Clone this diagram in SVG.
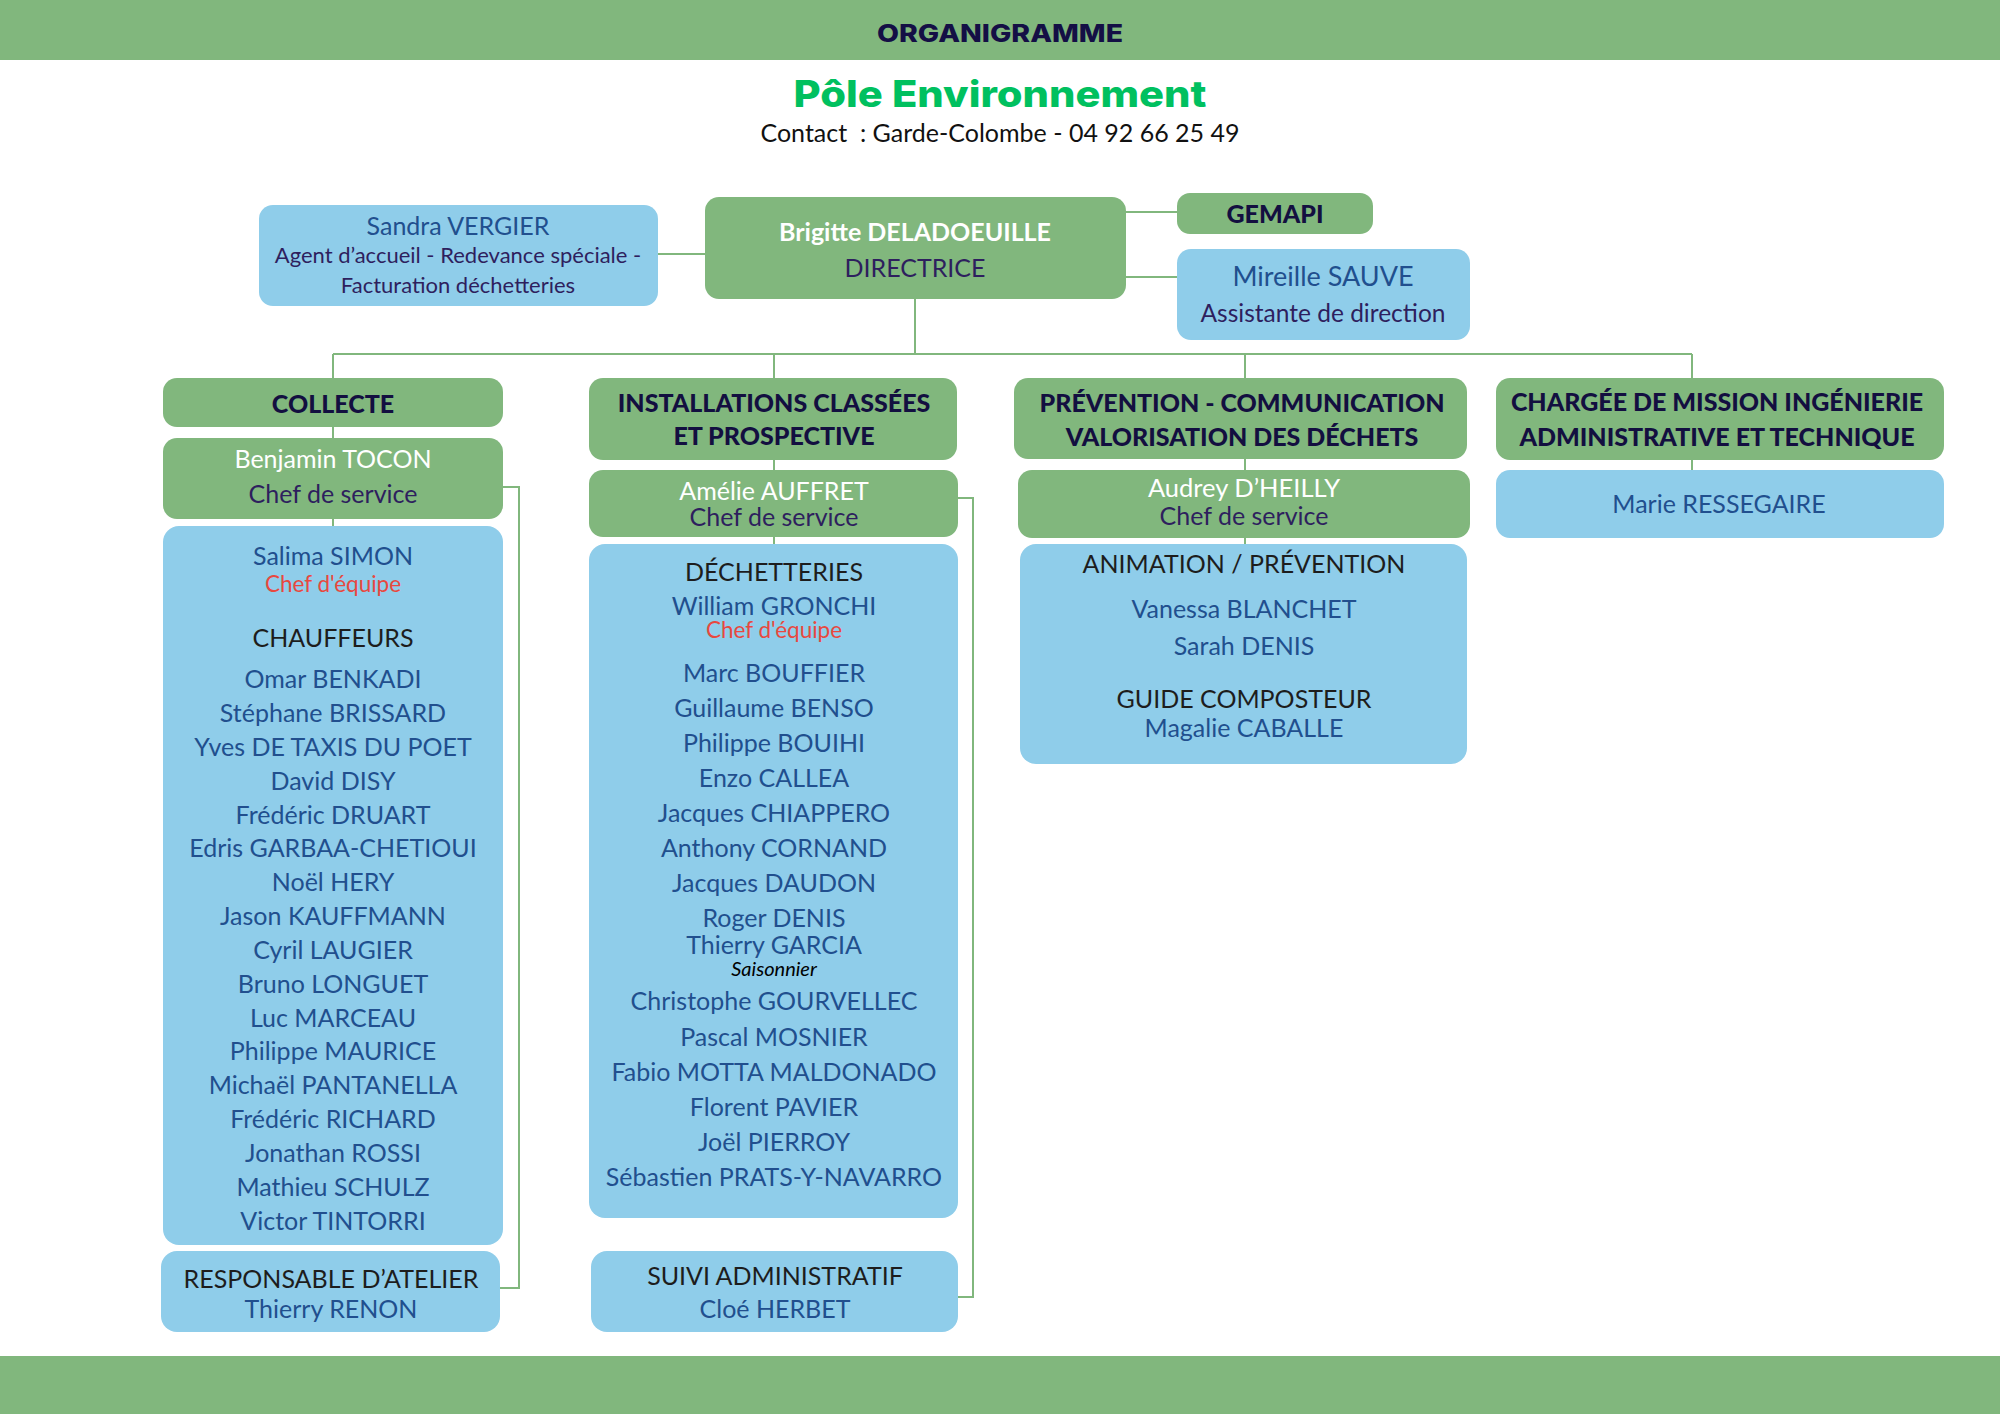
<svg xmlns="http://www.w3.org/2000/svg" width="2000" height="1414" viewBox="0 0 2000 1414">
<style>
text{font-family:Lato,"Open Sans","Liberation Sans",sans-serif;text-anchor:middle;font-size:25px;}
.g{fill:#81b77d;}
.b{fill:#8fcdea;}
.h{font-weight:900;fill:#130f40;}
.w{fill:#ffffff;}
.wb{fill:#ffffff;font-weight:700;}
.p{fill:#2e1f5e;}
.n{fill:#214f8e;}
.d{fill:#1d1d1d;}
.r{fill:#e8483f;font-size:22.5px;}
.ln{fill:none;stroke:#81b77d;stroke-width:2;}
</style>
<rect x="0" y="0" width="2000" height="60" class="g"/>
<rect x="0" y="1356" width="2000" height="58" class="g"/>
<text x="1000" y="42" textLength="246" lengthAdjust="spacingAndGlyphs" style="font-family:Inter,'Open Sans',sans-serif;font-weight:800;font-size:24px;fill:#140f45">ORGANIGRAMME</text>
<text x="1000" y="107" textLength="413" lengthAdjust="spacingAndGlyphs" style="font-family:Inter,'Open Sans',sans-serif;font-weight:800;font-size:37px;fill:#00c05f">Pôle Environnement</text>
<text x="1000" y="142" style="fill:#111">Contact&#160; : Garde-Colombe - 04 92 66 25 49</text>

<g id="connectors">
<path class="ln" d="M658 254H705"/>
<path class="ln" d="M1126 212H1177"/>
<path class="ln" d="M1126 277H1177"/>
<path class="ln" d="M915 299V354"/>
<path class="ln" d="M333 354H1692"/>
<path class="ln" d="M333 354V378M333 427V438M333 519V527"/>
<path class="ln" d="M774 354V378M774 460V470M774 537V545"/>
<path class="ln" d="M1245 354V378M1245 459V470M1245 538V544"/>
<path class="ln" d="M1692 354V378M1692 460V470"/>
<path class="ln" d="M503 487H519V1288H500"/>
<path class="ln" d="M958 498H973V1297H958"/>
</g>

<g id="sandra">
<rect x="259" y="205" width="399" height="101" rx="14" class="b"/>
<text x="458" y="235" class="n">Sandra VERGIER</text>
<text x="458" y="263" class="p" style="font-size:22px">Agent d’accueil - Redevance spéciale -</text>
<text x="458" y="293" class="p" style="font-size:22px">Facturation déchetteries</text>
</g>
<g id="brigitte">
<rect x="705" y="197" width="421" height="102" rx="14" class="g"/>
<text x="915" y="241" class="wb">Brigitte DELADOEUILLE</text>
<text x="915" y="277" class="p">DIRECTRICE</text>
</g>
<g id="gemapi">
<rect x="1177" y="193" width="196" height="41" rx="13" class="g"/>
<text x="1275" y="223" class="h">GEMAPI</text>
</g>
<g id="mireille">
<rect x="1177" y="249" width="293" height="91" rx="14" class="b"/>
<text x="1323" y="286" class="n" style="font-size:27px">Mireille SAUVE</text>
<text x="1323" y="322" class="p" style="font-size:24.5px">Assistante de direction</text>
</g>

<g id="collecte">
<rect x="163" y="378" width="340" height="49" rx="14" class="g"/>
<text x="333" y="413" class="h">COLLECTE</text>
</g>
<g id="benjamin">
<rect x="163" y="438" width="340" height="81" rx="14" class="g"/>
<text x="333" y="468" class="w">Benjamin TOCON</text>
<text x="333" y="503" class="p">Chef de service</text>
</g>
<g id="collecte-equipe">
<rect x="163" y="526" width="340" height="719" rx="16" class="b"/>
<text x="333" y="565" class="n">Salima SIMON</text>
<text x="333" y="592" class="r">Chef d'équipe</text>
<text x="333" y="647" class="d">CHAUFFEURS</text>
<text x="333" y="688" class="n">Omar BENKADI</text>
<text x="333" y="722" class="n">Stéphane BRISSARD</text>
<text x="333" y="756" class="n">Yves DE TAXIS DU POET</text>
<text x="333" y="790" class="n">David DISY</text>
<text x="333" y="824" class="n">Frédéric DRUART</text>
<text x="333" y="857" class="n">Edris GARBAA-CHETIOUI</text>
<text x="333" y="891" class="n">Noël HERY</text>
<text x="333" y="925" class="n">Jason KAUFFMANN</text>
<text x="333" y="959" class="n">Cyril LAUGIER</text>
<text x="333" y="993" class="n">Bruno LONGUET</text>
<text x="333" y="1027" class="n">Luc MARCEAU</text>
<text x="333" y="1060" class="n">Philippe MAURICE</text>
<text x="333" y="1094" class="n">Michaël PANTANELLA</text>
<text x="333" y="1128" class="n">Frédéric RICHARD</text>
<text x="333" y="1162" class="n">Jonathan ROSSI</text>
<text x="333" y="1196" class="n">Mathieu SCHULZ</text>
<text x="333" y="1230" class="n">Victor TINTORRI</text>
</g>
<g id="atelier">
<rect x="161" y="1251" width="339" height="81" rx="16" class="b"/>
<text x="331" y="1288" class="d">RESPONSABLE D’ATELIER</text>
<text x="331" y="1318" class="n">Thierry RENON</text>
</g>

<g id="installations">
<rect x="589" y="378" width="368" height="82" rx="14" class="g"/>
<text x="774" y="412" class="h">INSTALLATIONS CLASSÉES</text>
<text x="774" y="445" class="h">ET PROSPECTIVE</text>
</g>
<g id="amelie">
<rect x="589" y="470" width="369" height="67" rx="14" class="g"/>
<text x="774" y="500" class="w">Amélie AUFFRET</text>
<text x="774" y="526" class="p">Chef de service</text>
</g>
<g id="decheteries">
<rect x="589" y="544" width="369" height="674" rx="16" class="b"/>
<text x="774" y="581" class="d">DÉCHETTERIES</text>
<text x="774" y="615" class="n">William GRONCHI</text>
<text x="774" y="638" class="r">Chef d'équipe</text>
<text x="774" y="682" class="n">Marc BOUFFIER</text>
<text x="774" y="717" class="n">Guillaume BENSO</text>
<text x="774" y="752" class="n">Philippe BOUIHI</text>
<text x="774" y="787" class="n">Enzo CALLEA</text>
<text x="774" y="822" class="n">Jacques CHIAPPERO</text>
<text x="774" y="857" class="n">Anthony CORNAND</text>
<text x="774" y="892" class="n">Jacques DAUDON</text>
<text x="774" y="927" class="n">Roger DENIS</text>
<text x="774" y="954" class="n">Thierry GARCIA</text>
<text x="774" y="976" style="font-size:20px;font-style:italic;fill:#000">Saisonnier</text>
<text x="774" y="1010" class="n">Christophe GOURVELLEC</text>
<text x="774" y="1046" class="n">Pascal MOSNIER</text>
<text x="774" y="1081" class="n">Fabio MOTTA MALDONADO</text>
<text x="774" y="1116" class="n">Florent PAVIER</text>
<text x="774" y="1151" class="n">Joël PIERROY</text>
<text x="774" y="1186" class="n">Sébastien PRATS-Y-NAVARRO</text>
</g>
<g id="suivi">
<rect x="591" y="1251" width="367" height="81" rx="16" class="b"/>
<text x="775" y="1285" class="d">SUIVI ADMINISTRATIF</text>
<text x="775" y="1318" class="n">Cloé HERBET</text>
</g>

<g id="prevention">
<rect x="1014" y="378" width="453" height="81" rx="14" class="g"/>
<text x="1242" y="412" class="h">PRÉVENTION - COMMUNICATION</text>
<text x="1242" y="446" class="h">VALORISATION DES DÉCHETS</text>
</g>
<g id="audrey">
<rect x="1018" y="470" width="452" height="68" rx="14" class="g"/>
<text x="1244" y="497" class="w" style="font-size:25.5px">Audrey D’HEILLY</text>
<text x="1244" y="525" class="p">Chef de service</text>
</g>
<g id="animation">
<rect x="1020" y="544" width="447" height="220" rx="16" class="b"/>
<text x="1244" y="573" class="d">ANIMATION / PRÉVENTION</text>
<text x="1244" y="618" class="n">Vanessa BLANCHET</text>
<text x="1244" y="655" class="n">Sarah DENIS</text>
<text x="1244" y="708" class="d">GUIDE COMPOSTEUR</text>
<text x="1244" y="737" class="n">Magalie CABALLE</text>
</g>

<g id="chargee">
<rect x="1496" y="378" width="448" height="82" rx="14" class="g"/>
<text x="1717" y="411" class="h">CHARGÉE DE MISSION INGÉNIERIE</text>
<text x="1717" y="446" class="h">ADMINISTRATIVE ET TECHNIQUE</text>
</g>
<g id="marie">
<rect x="1496" y="470" width="448" height="68" rx="14" class="b"/>
<text x="1719" y="513" class="n">Marie RESSEGAIRE</text>
</g>
</svg>
